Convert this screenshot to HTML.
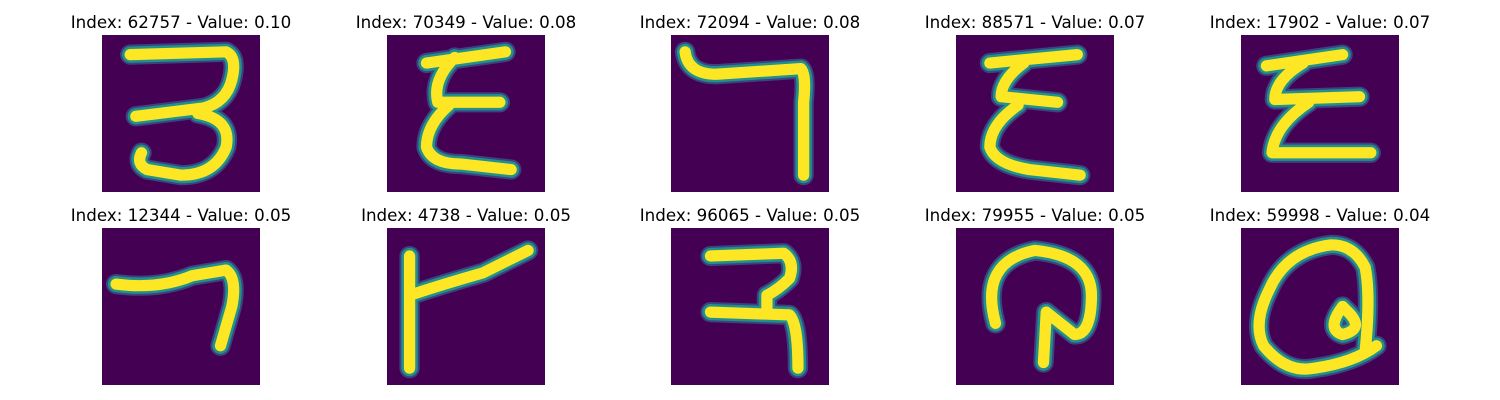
<!DOCTYPE html>
<html><head><meta charset="utf-8"><style>
html,body{margin:0;padding:0;background:#fff;}
#wrap{position:relative;width:1500px;height:400px;overflow:hidden;font-family:"DejaVu Sans","Liberation Sans",sans-serif;}
.t{position:absolute;font-size:16.7px;color:#000;white-space:nowrap;transform:translateX(-50%);}
svg.img{position:absolute;width:158px;height:157px;}
</style></head><body>
<div id="wrap"></div>
<script>
const indices = [62757, 70349, 72094, 88571, 17902, 12344, 4738, 96065, 79955, 59998];
const values = ["0.10", "0.08", "0.08", "0.07", "0.07", "0.05", "0.05", "0.05", "0.05", "0.04"];
const strokes = [
 "M5,3.5 L22,3 Q24,4 23,8 Q22,12 18,13 L6,14.5 M17,14 Q23,15 22,20 Q20,25 14,25 L8,24 Q6,23 7,21",
 "M7,5 L21,3 M12,4 Q8,8 9,12 L20,12 M11,12.5 Q7,16 7,20 Q8,23 13,23 L22,24",
 "M2.5,3 Q3,7 8,7 L23,6 Q24,7 23.5,12 L23.5,25",
 "M6,5 L21.5,3.5 M12,5 Q8,8 8,11 L18,12 M11,12.5 Q6,16 6,20 Q7,23 13,24 L22,25",
 "M4.5,5.5 L18,3.5 M11,5 Q6,8 6,11.5 L21,11 M12,12 Q6,16 5.5,21 L23,21",
 "M2.5,10 Q10,11 16,8.5 L22,7.5 Q24,9 23,14 L21,21",
 "M4,5 L4,25 M4,12 Q10,10 17,8 L25,4",
 "M7,5 L20,4.5 Q22,6 21,9 Q19,11 17,12 M17,12 L17,15 M7,15 L21,15.5 Q22.5,17 22.5,25",
 "M7,17 Q4,6 14,4 Q24,5 24,12 Q24,19 21,19 L16,15 L15.5,24",
 "M16,3 Q8,4 5,11 Q2,17 4,21 Q8,26 13,25 Q20,24 24,21 M22,22 Q23,12 22,7 Q20,3 16,3 M18,14 Q15,18 18,19 Q22,18 19,15 Z"
];
const colX = [102, 387, 671, 956, 1241];
const rowY = [35, 228];
const wrap = document.getElementById('wrap');
const NS = "http://www.w3.org/2000/svg";
indices.forEach((idx, i) => {
  const c = i % 5, r = Math.floor(i / 5);
  const x = colX[c], y = rowY[r];
  const t = document.createElement('div');
  t.className = 't';
  t.style.left = (x + 79) + 'px';
  t.style.top = (y - 23) + 'px';
  t.textContent = 'Index: ' + idx + ' - Value: ' + values[i];
  
  
  wrap.appendChild(t);
  const s = document.createElementNS(NS, 'svg');
  s.setAttribute('class', 'img');
  s.setAttribute('viewBox', '0 0 28 28');
  s.setAttribute('preserveAspectRatio', 'none');
  s.style.left = x + 'px';
  s.style.top = y + 'px';
  
  
  s.innerHTML = '<rect width="28" height="28" fill="#440154"/>' +
    '<path d="' + strokes[i] + '" fill="none" stroke="#3b528b" stroke-width="3.6" stroke-linecap="round" stroke-linejoin="round" opacity="0.8"/>' +
    '<path d="' + strokes[i] + '" fill="none" stroke="#21918c" stroke-width="2.9" stroke-linecap="round" stroke-linejoin="round"/>' +
    '<path d="' + strokes[i] + '" fill="none" stroke="#fde725" stroke-width="2.0" stroke-linecap="round" stroke-linejoin="round"/>';
  wrap.appendChild(s);
});
</script>
</body></html>
